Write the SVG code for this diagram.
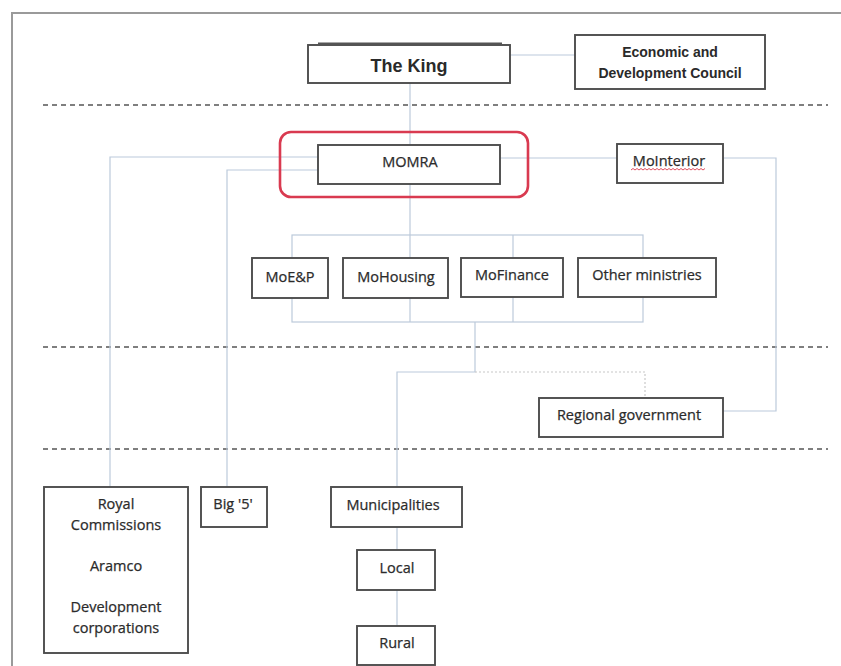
<svg xmlns="http://www.w3.org/2000/svg" width="841" height="666" viewBox="0 0 841 666">
  <style>
    .box { fill: #ffffff; stroke: #4d4d4d; stroke-width: 1.9; }
    .lbl { font-family: "Open Sans", "Noto Sans", sans-serif; font-size: 14.5px; fill: #2b2b2b; stroke: #2b2b2b; stroke-width: 0.25; text-anchor: middle; }
    .bold { font-family: "Liberation Sans", Arial, sans-serif; font-weight: bold; fill: #2a2a2a; text-anchor: middle; }
    .conn { fill: none; stroke: #bccadb; stroke-width: 1.2; }
    .dotted { fill: none; stroke: #c8c8c8; stroke-width: 1.2; stroke-dasharray: 2 2; }
    .tier { fill: none; stroke: #555555; stroke-width: 1.6; stroke-dasharray: 5 4; }
  </style>

  <rect x="0" y="0" width="841" height="666" fill="#ffffff"/>
  <!-- page frame -->
  <rect x="12" y="13" width="900" height="700" fill="none" stroke="#9a9a9a" stroke-width="2"/>

  <!-- tier separators -->
  <g id="tiers">
    <line class="tier" x1="43" y1="105" x2="828" y2="105"/>
    <line class="tier" x1="43" y1="347" x2="828" y2="347"/>
    <line class="tier" x1="43" y1="449" x2="828" y2="449"/>
  </g>

  <!-- connectors -->
  <g id="connectors">
    <line class="conn" x1="510" y1="55" x2="575" y2="55"/>
    <line class="conn" x1="410" y1="83" x2="410" y2="322"/>
    <polyline class="conn" points="318,157 110,157 110,487"/>
    <polyline class="conn" points="318,170 227,170 227,487"/>
    <line class="conn" x1="500" y1="158" x2="617" y2="158"/>
    <polyline class="conn" points="723,158 776,158 776,411 723,411"/>
    <rect class="conn" x="292" y="235" width="351" height="87"/>
    <line class="conn" x1="513" y1="235" x2="513" y2="322"/>
    <polyline class="conn" points="475,322 475,372 397,372 397,626"/>
    <polyline class="dotted" points="475,372 645,372 645,398"/>
  </g>

  <g id="king">
    <rect class="box" x="308" y="45" width="202" height="38"/>
    <line x1="318" y1="43.5" x2="502" y2="43.5" stroke="#555555" stroke-width="2"/>
    <text class="bold" x="409" y="72" font-size="18">The King</text>
  </g>

  <g id="council">
    <rect class="box" x="575" y="35" width="190" height="54"/>
    <text class="bold" x="670" y="57" font-size="14">Economic and</text>
    <text class="bold" x="670" y="78" font-size="14">Development Council</text>
  </g>

  <g id="momra">
    <rect class="box" x="318" y="145" width="182" height="39"/>
    <text class="lbl" x="410" y="167">MOMRA</text>
    <rect x="280" y="132" width="248" height="65" rx="11" fill="none" stroke="#d93a50" stroke-width="2.6"/>
  </g>

  <g id="mointerior">
    <rect class="box" x="617" y="144" width="106" height="39"/>
    <text class="lbl" x="669" y="166">MoInterior</text>
    <path d="M631,170 l2,-1.5 l2,1.5 l2,-1.5 l2,1.5 l2,-1.5 l2,1.5 l2,-1.5 l2,1.5 l2,-1.5 l2,1.5 l2,-1.5 l2,1.5 l2,-1.5 l2,1.5 l2,-1.5 l2,1.5 l2,-1.5 l2,1.5 l2,-1.5 l2,1.5 l2,-1.5 l2,1.5 l2,-1.5 l2,1.5 l2,-1.5 l2,1.5 l2,-1.5 l2,1.5 l2,-1.5 l2,1.5 l2,-1.5 l2,1.5 l2,-1.5 l2,1.5 l2,-1.5 l2,1.5 l2,-1.5" fill="none" stroke="#e05060" stroke-width="1"/>
  </g>

  <g id="moep">
    <rect class="box" x="252" y="258" width="76" height="40"/>
    <text class="lbl" x="290" y="282">MoE&amp;P</text>
  </g>

  <g id="mohousing">
    <rect class="box" x="343" y="258" width="105" height="40"/>
    <text class="lbl" x="396" y="282">MoHousing</text>
  </g>

  <g id="mofinance">
    <rect class="box" x="461" y="258" width="102" height="39"/>
    <text class="lbl" x="512" y="280">MoFinance</text>
  </g>

  <g id="other-ministries">
    <rect class="box" x="578" y="258" width="138" height="39"/>
    <text class="lbl" x="647" y="280">Other ministries</text>
  </g>

  <g id="regional-government">
    <rect class="box" x="539" y="398" width="184" height="39"/>
    <text class="lbl" x="629" y="420">Regional government</text>
  </g>

  <g id="royal-commissions">
    <rect class="box" x="44" y="487" width="144" height="166"/>
    <text class="lbl" x="116" y="509">Royal</text>
    <text class="lbl" x="116" y="530">Commissions</text>
    <text class="lbl" x="116" y="571">Aramco</text>
    <text class="lbl" x="116" y="612">Development</text>
    <text class="lbl" x="116" y="633">corporations</text>
  </g>

  <g id="big-five">
    <rect class="box" x="201" y="487" width="66" height="40"/>
    <text class="lbl" x="233" y="509">Big '5'</text>
  </g>

  <g id="municipalities">
    <rect class="box" x="331" y="487" width="131" height="40"/>
    <text class="lbl" x="393" y="510">Municipalities</text>
  </g>

  <g id="local">
    <rect class="box" x="357" y="550" width="78" height="40"/>
    <text class="lbl" x="397" y="573">Local</text>
  </g>

  <g id="rural">
    <rect class="box" x="357" y="626" width="78" height="39"/>
    <text class="lbl" x="397" y="648">Rural</text>
  </g>
</svg>
